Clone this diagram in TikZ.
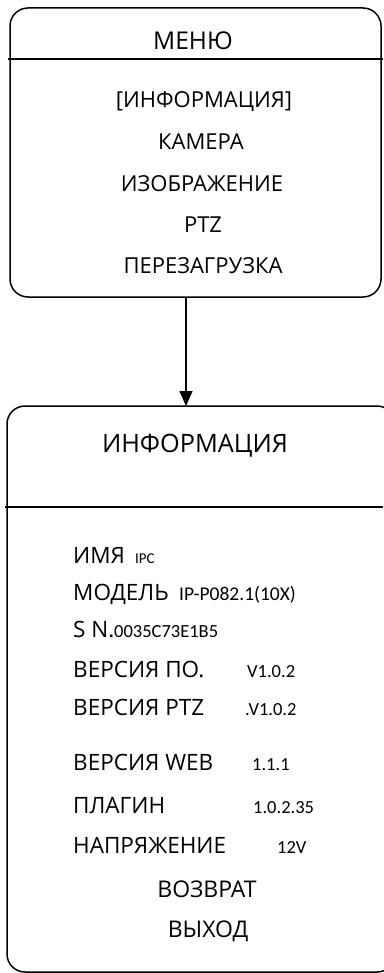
\documentclass[tikz,border=0pt]{standalone}
\usepackage{fontspec}
\setmainfont{Open Sans}
\newfontfamily\valfont{Carlito}
\usetikzlibrary{arrows.meta}
\tikzset{
  frame/.style={draw=black, line width=1.5pt, rounded corners=18pt},
  sep/.style={draw=black, line width=1.5pt},
  menuitem/.style={inner sep=0pt, anchor=base, font=\fontsize{22}{24}\selectfont},
  titletext/.style={inner sep=0pt, anchor=base, font=\fontsize{25.3}{28}\selectfont},
  label/.style={inner sep=0pt, anchor=base west, font=\fontsize{22.5}{25}\selectfont},
  infoitem/.style={inner sep=0pt, anchor=base, font=\fontsize{23}{25}\selectfont},
  val/.style={inner sep=0pt, anchor=base west, font=\valfont\fontsize{18.5}{20}\selectfont},
  smallval/.style={inner sep=0pt, anchor=base west, font=\valfont\fontsize{15}{17}\selectfont},
  link/.style={draw=black, line width=1.5pt, -{Triangle[length=15pt,width=13pt]}}
}
\begin{document}
\begin{tikzpicture}[x=1pt,y=-1pt]
\useasboundingbox (0,0) rectangle (383,973);
% box 1
\path[frame] (10,8) rectangle (381,297);
\draw[sep] (8,59) -- (383,59);
\coordinate (b1) at (186,297);
\node[menuitem, font=\fontsize{24.5}{26}\selectfont] (menu) at (193,50) {МЕНЮ};
\node[menuitem] (m1) at (204,108) {[ИНФОРМАЦИЯ]};
\node[menuitem] (m2) at (201,150) {КАМЕРА};
\node[menuitem] (m3) at (202,192) {ИЗОБРАЖЕНИЕ};
\node[menuitem] (m4) at (203,233) {PTZ};
\node[menuitem] (m5) at (203,273) {ПЕРЕЗАГРУЗКА};
% box 2
\path[frame] (7,406) rectangle (395,972);
\draw[sep] (5,507) -- (383,507);
\coordinate (b2) at (186,406);
\node[titletext] (title) at (195,452) {ИНФОРМАЦИЯ};
\node[label] (l1) at (73,563) {ИМЯ};
\node[smallval] (v1) at (135,563) {IPC};
\node[label] (l2) at (73,600) {МОДЕЛЬ};
\node[val, font=\valfont\fontsize{19.5}{21}\selectfont] (v2) at (179,600) {IP-P082.1(10X)};
\node[label] (l3) at (73,637) {S N.};
\node[val] (v3) at (114,637) {0035C73E1B5};
\node[label] (l4) at (73,677) {ВЕРСИЯ ПО.};
\node[val] (v4) at (247,677) {V1.0.2};
\node[label] (l5) at (73,715) {ВЕРСИЯ PTZ};
\node[val] (v5) at (245,715) {.V1.0.2};
\node[label] (l6) at (73,770) {ВЕРСИЯ WEB};
\node[val] (v6) at (252,770) {1.1.1};
\node[label] (l7) at (73,813) {ПЛАГИН};
\node[val] (v7) at (253,813) {1.0.2.35};
\node[label] (l8) at (73,853) {НАПРЯЖЕНИЕ};
\node[val] (v8) at (277,853) {12V};
\node[infoitem] (back) at (207,897) {ВОЗВРАТ};
\node[infoitem] (exit) at (208,937) {ВЫХОД};
% arrow
\draw[link] (b1) -- (b2);
\end{tikzpicture}
\end{document}
